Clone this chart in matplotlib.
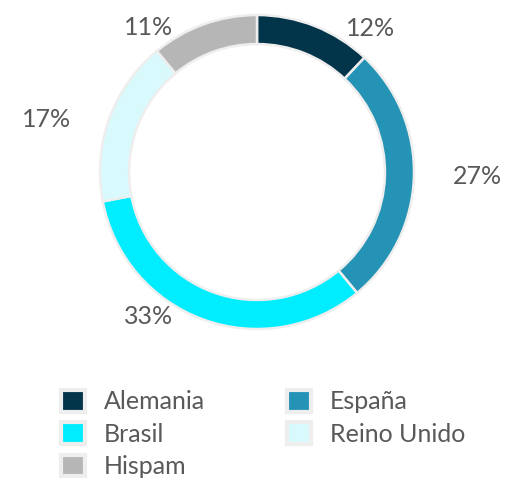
import numpy as np
import matplotlib.pyplot as plt
from matplotlib.patches import Patch

# Datos
paises = ["Alemania", "España", "Brasil", "Reino Unido", "Hispam"]
porcentajes = [12, 27, 33, 17, 11]
colores = ["#02344a", "#2593b5", "#00edff", "#d8fafd", "#b5b6b5"]

plt.rcParams['font.family'] = ['Lato', 'DejaVu Sans']
texto_color = "#595959"

fig = plt.figure(figsize=(5.09, 4.78), dpi=100)

# Posicion del donut en pixeles (centro y radio)
cx, cy, r = 257, 172, 157
W, H = 509, 478
ax = fig.add_axes([(cx - r) / W, (H - cy - r) / H, 2 * r / W, 2 * r / H])

wedges, _ = ax.pie(porcentajes, colors=colores, startangle=90, counterclock=False,
                   radius=1.0,
                   wedgeprops=dict(width=0.185, edgecolor="#eeeeee", linewidth=1.8))
ax.set_xlim(-1, 1)
ax.set_ylim(-1, 1)
ax.set_aspect('equal')
ax.axis('off')

# Etiquetas de porcentaje fuera del anillo
acum = np.cumsum(porcentajes) - np.array(porcentajes) / 2
for p, m in zip(porcentajes, acum):
    theta = np.radians(m / 100 * 360)
    s, c = np.sin(theta), np.cos(theta)
    x = 1.08 * s + np.sign(s) * 0.17
    y = 0.98 * c
    ax.text(x, y, f"{p}%", ha='left' if s > 0 else 'right', va='center',
            fontsize=18, color=texto_color, clip_on=False)

# Leyenda (dos columnas, se llena por columnas)
orden = [0, 2, 4, 1, 3]
handles = [Patch(facecolor=colores[i], edgecolor="#eeeeee", linewidth=3) for i in orden]
etiquetas = [paises[i] for i in orden]
fig.legend(handles, etiquetas, ncol=2, loc='upper left',
           bbox_to_anchor=(61 / W, 1 - 390 / H), frameon=False,
           fontsize=18, labelcolor=texto_color, handlelength=0.95, handleheight=0.95,
           handletextpad=0.75, columnspacing=3.3, labelspacing=0.36, borderpad=0,
           borderaxespad=0)

fig.savefig("out.png", dpi=100)
